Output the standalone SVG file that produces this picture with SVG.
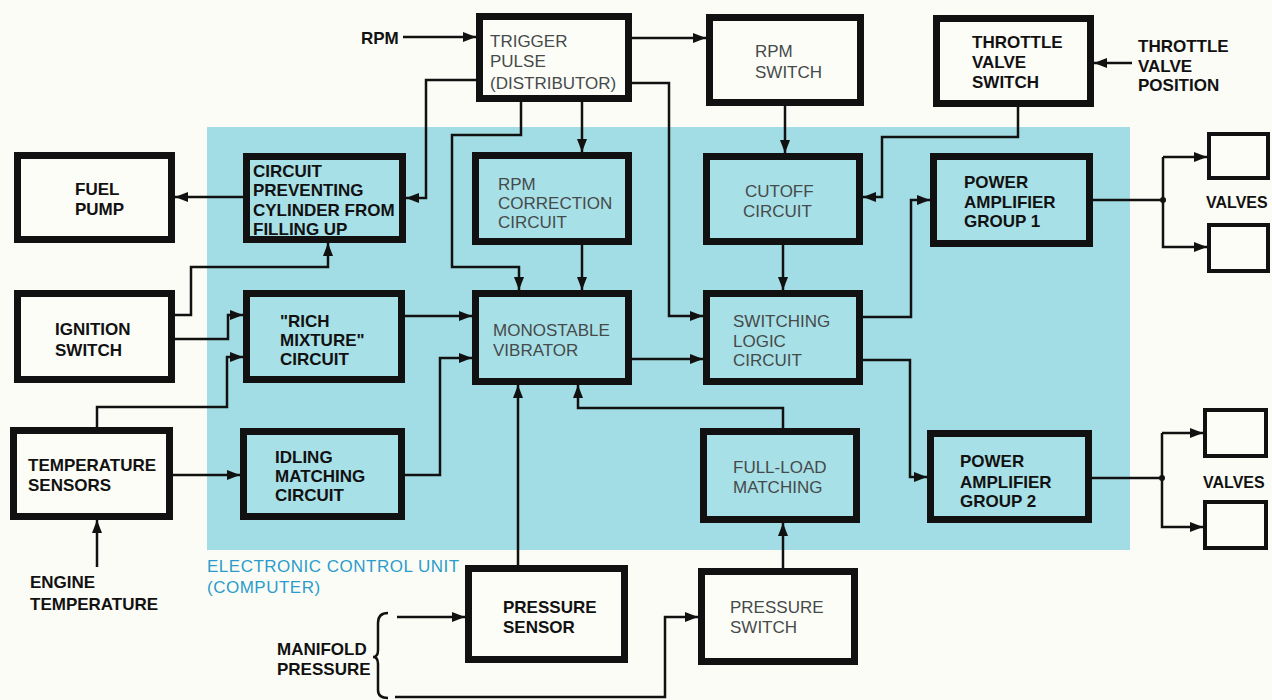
<svg xmlns="http://www.w3.org/2000/svg" width="1272" height="700" viewBox="0 0 1272 700">
<style>
.bx{stroke:#111;stroke-width:7;}
.out{fill:#fdfdf8;}
.in{fill:#a8e0e7;}
.vb{fill:#fdfdf8;stroke:#111;stroke-width:4;}
.t{font-family:"Liberation Sans",Arial,sans-serif;font-size:17px;}
.k{fill:#111;font-weight:bold;}
.g{fill:#454a4a;}
.ecu{fill:#2a9ccc;letter-spacing:0.5px;}
.c{fill:none;stroke:#111;stroke-width:2.5;}
.ca{fill:none;stroke:#111;stroke-width:2.5;marker-end:url(#ah);}
</style>
<defs>
<marker id="ah" markerUnits="userSpaceOnUse" markerWidth="14" markerHeight="12" refX="13" refY="5" orient="auto">
<path d="M0,0 L13,5 L0,10 z" fill="#111"/>
</marker>
</defs>
<rect x="0" y="0" width="1272" height="700" fill="#fcfcf6"/>
<rect x="207" y="127" width="923" height="423" fill="#a2dce4"/>

<g id="connectors">
<path class="ca" d="M403,37 H476"/>
<path class="ca" d="M632,38 H706"/>
<path class="ca" d="M632,83 H669 V316 H703"/>
<path class="ca" d="M476,80 H426 V198 H406"/>
<path class="ca" d="M582,102 V152"/>
<path class="ca" d="M521,102 V135 H452 V267 H519 V290"/>
<path class="ca" d="M582,245 V290"/>
<path class="ca" d="M785,106 V153"/>
<path class="ca" d="M1018,107 V137 H882 V197 H863"/>
<path class="ca" d="M783,245 V290"/>
<path class="ca" d="M863,317 H911 V200 H930"/>
<path class="ca" d="M863,360 H910 V477 H927"/>
<path class="c" d="M1093,200 H1163 V157"/>
<path class="ca" d="M1163,157 H1207"/>
<path class="ca" d="M1163,200 V247 H1207"/>
<circle cx="1163" cy="200" r="3" fill="#111"/>
<path class="c" d="M1092,478 H1162 V433"/>
<path class="ca" d="M1162,433 H1203"/>
<path class="ca" d="M1162,478 V527 H1203"/>
<circle cx="1162" cy="478" r="3" fill="#111"/>
<path class="ca" d="M243,197 H175"/>
<path class="ca" d="M175,315 H191 V267 H328 V243"/>
<path class="ca" d="M175,339 H228 V315 H243"/>
<path class="ca" d="M97,427 V407 H227 V357 H243"/>
<path class="ca" d="M173,475 H240"/>
<path class="ca" d="M405,475 H440 V358 H472"/>
<path class="ca" d="M405,316 H472"/>
<path class="ca" d="M632,359 H703"/>
<path class="ca" d="M518,565 V385"/>
<path class="ca" d="M783,428 V408 H578 V385"/>
<path class="ca" d="M783,568 V523"/>
<path class="ca" d="M97,567 V520"/>
<path class="ca" d="M1132,63 H1094"/>
<path class="ca" d="M397,617 H465"/>
<path class="ca" d="M395,697 H665 V617 H698"/>
<path class="c" stroke-width="2" d="M388,613 Q378,613 378,623 V650 Q378,657 373,657 Q378,657 378,664 V690 Q378,698 388,698"/>
</g>

<g id="trigger"><rect class="bx out" x="479.5" y="16.5" width="149" height="82"/>
<text class="t g" x="490" y="47">TRIGGER</text><text class="t g" x="490" y="67">PULSE</text><text class="t g" x="490" y="89">(DISTRIBUTOR)</text></g>
<g id="rpmswitch"><rect class="bx out" x="709.5" y="17.5" width="151" height="85"/>
<text class="t g" x="755" y="57">RPM</text><text class="t g" x="755" y="78">SWITCH</text></g>
<g id="throttleswitch"><rect class="bx out" x="936.5" y="18.5" width="154" height="85"/>
<text class="t k" x="972" y="48">THROTTLE</text><text class="t k" x="972" y="68">VALVE</text><text class="t k" x="972" y="88">SWITCH</text></g>
<g id="fuelpump"><rect class="bx out" x="17.5" y="155.5" width="154" height="84"/>
<text class="t k" x="75" y="195">FUEL</text><text class="t k" x="75" y="215">PUMP</text></g>
<g id="circuitprev"><rect class="bx in" x="246.5" y="156.5" width="156" height="83"/>
<text class="t k" x="253" y="177">CIRCUIT</text><text class="t k" x="253" y="196">PREVENTING</text><text class="t k" x="253" y="216">CYLINDER FROM</text><text class="t k" x="253" y="235">FILLING UP</text></g>
<g id="ignition"><rect class="bx out" x="17.5" y="293.5" width="154" height="86"/>
<text class="t k" x="55" y="335">IGNITION</text><text class="t k" x="55" y="356">SWITCH</text></g>
<g id="richmixture"><rect class="bx in" x="246.5" y="293.5" width="155" height="86"/>
<text class="t k" x="280" y="327">"RICH</text><text class="t k" x="280" y="346">MIXTURE"</text><text class="t k" x="280" y="365">CIRCUIT</text></g>
<g id="rpmcorrection"><rect class="bx in" x="475.5" y="155.5" width="153" height="86"/>
<text class="t g" x="498" y="190">RPM</text><text class="t g" x="498" y="209">CORRECTION</text><text class="t g" x="498" y="228">CIRCUIT</text></g>
<g id="monostable"><rect class="bx in" x="475.5" y="293.5" width="153" height="88"/>
<text class="t g" x="493" y="336">MONOSTABLE</text><text class="t g" x="493" y="356">VIBRATOR</text></g>
<g id="cutoff"><rect class="bx in" x="706.5" y="156.5" width="153" height="85"/>
<text class="t g" x="745" y="197">CUTOFF</text><text class="t g" x="743" y="217">CIRCUIT</text></g>
<g id="switchinglogic"><rect class="bx in" x="706.5" y="293.5" width="153" height="88"/>
<text class="t g" x="733" y="327">SWITCHING</text><text class="t g" x="733" y="347">LOGIC</text><text class="t g" x="733" y="366">CIRCUIT</text></g>
<g id="poweramp1"><rect class="bx in" x="933.5" y="156.5" width="156" height="87"/>
<text class="t k" x="964" y="188">POWER</text><text class="t k" x="964" y="208">AMPLIFIER</text><text class="t k" x="964" y="227">GROUP 1</text></g>
<g id="tempsensors"><rect class="bx out" x="13.5" y="430.5" width="156" height="86"/>
<text class="t k" x="28" y="471">TEMPERATURE</text><text class="t k" x="28" y="491">SENSORS</text></g>
<g id="idling"><rect class="bx in" x="243.5" y="431.5" width="158" height="85"/>
<text class="t k" x="275" y="463">IDLING</text><text class="t k" x="275" y="482">MATCHING</text><text class="t k" x="275" y="501">CIRCUIT</text></g>
<g id="fullload"><rect class="bx in" x="703.5" y="431.5" width="153" height="88"/>
<text class="t g" x="733" y="473">FULL-LOAD</text><text class="t g" x="733" y="493">MATCHING</text></g>
<g id="poweramp2"><rect class="bx in" x="930.5" y="433.5" width="158" height="86"/>
<text class="t k" x="960" y="467">POWER</text><text class="t k" x="960" y="488">AMPLIFIER</text><text class="t k" x="960" y="507">GROUP 2</text></g>
<g id="pressuresensor"><rect class="bx out" x="468.5" y="568.5" width="156" height="91"/>
<text class="t k" x="503" y="613">PRESSURE</text><text class="t k" x="503" y="633">SENSOR</text></g>
<g id="pressureswitch"><rect class="bx out" x="701.5" y="571.5" width="153" height="90"/>
<text class="t g" x="730" y="613">PRESSURE</text><text class="t g" x="730" y="633">SWITCH</text></g>
<g id="valves1a"><rect class="vb" x="1209" y="134" width="59" height="44"/></g>
<g id="valves1b"><rect class="vb" x="1209" y="225" width="59" height="46"/></g>
<g id="valves2a"><rect class="vb" x="1205" y="410" width="61" height="46"/></g>
<g id="valves2b"><rect class="vb" x="1205" y="502" width="61" height="46"/></g>

<g id="labels">
<text class="t k" x="361" y="44">RPM</text>
<text class="t k" x="1138" y="52">THROTTLE</text><text class="t k" x="1138" y="72">VALVE</text><text class="t k" x="1138" y="91">POSITION</text>
<text class="t k" x="1206" y="208" style="font-size:16px">VALVES</text>
<text class="t k" x="1203" y="488" style="font-size:16px">VALVES</text>
<text class="t k" x="30" y="588">ENGINE</text><text class="t k" x="30" y="610">TEMPERATURE</text>
<text class="t ecu" x="207" y="572">ELECTRONIC CONTROL UNIT</text><text class="t ecu" x="207" y="593">(COMPUTER)</text>
<text class="t k" x="277" y="655">MANIFOLD</text><text class="t k" x="277" y="675">PRESSURE</text>
</g>
</svg>
